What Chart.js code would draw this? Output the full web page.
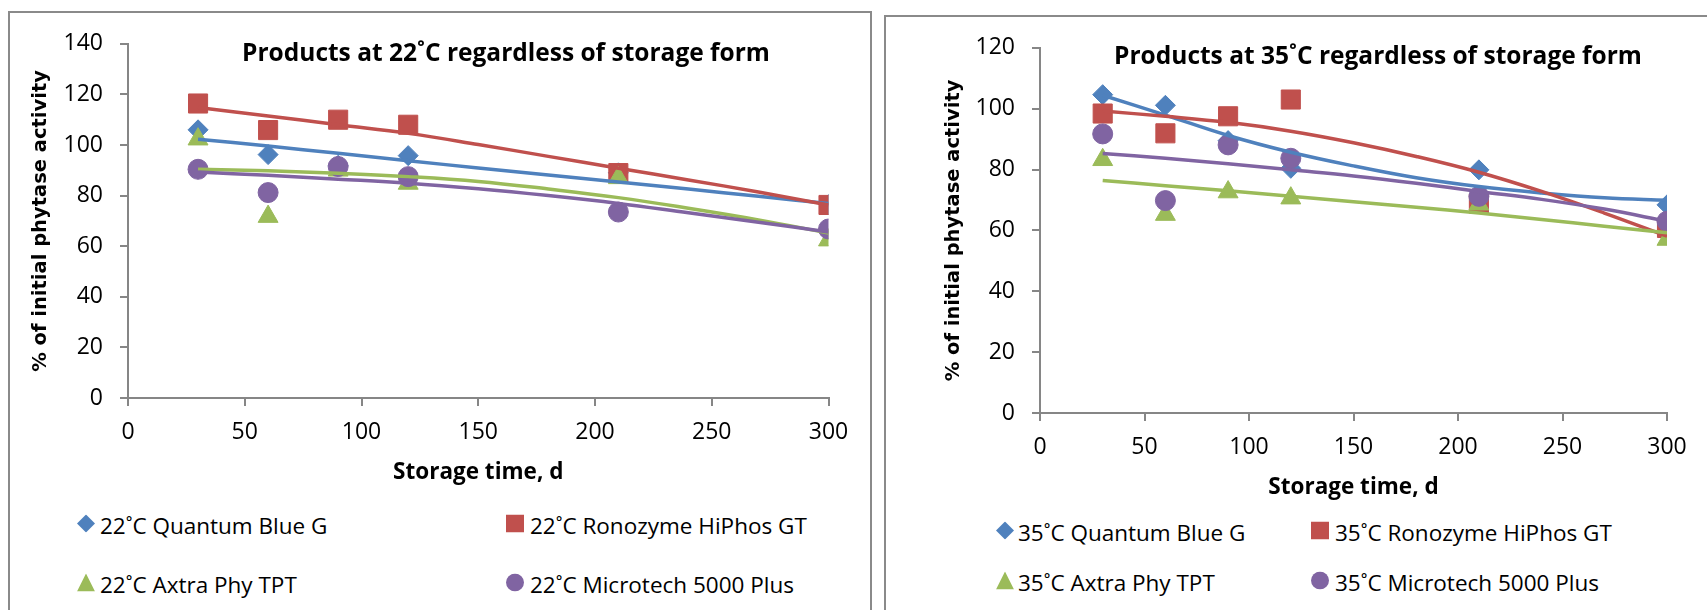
<!DOCTYPE html>
<html>
<head>
<meta charset="utf-8">
<script src="https://cdn.jsdelivr.net/npm/chart.js@4.4.0/dist/chart.umd.min.js"></script>
<style>
  body { margin: 0; background: #fff; width: 1707px; height: 610px; overflow: hidden; position: relative; font-family: 'Open Sans', sans-serif; }
  .panel { position: absolute; border: 2px solid #8a8a8a; border-bottom: none; background: #fff; }
  #p1 { left: 8px; top: 11px; width: 860px; height: 620px; }
  #p2 { left: 884px; top: 15px; width: 840px; height: 620px; border-right: none; }
  canvas { position: absolute; left: 0; top: 0; }
  .title { position: absolute; transform: translate(-50%, -50%); white-space: nowrap; font-weight: bold; font-size: 24.5px; line-height: 1; color: #000; }
  .lg { position: absolute; transform: translateY(-50%); white-space: nowrap; font-size: 22.5px; line-height: 1; color: #000; }
  .mk { position: absolute; transform: translate(-50%, -50%); }
</style>
</head>
<body>
<div class="panel" id="p1"><canvas id="c22" width="860" height="480"></canvas></div>
<div class="panel" id="p2"><canvas id="c35" width="821" height="495"></canvas></div>
<div class="title" style="left:506px;top:52px">Products at 22˚C regardless of storage form</div>
<div class="title" style="left:1378px;top:55px">Products at 35˚C regardless of storage form</div>
<div id="legends"></div>
<script>
// storage days of the measurements and of the read-off trend curves
const days = [30, 60, 90, 120, 210, 300];
const trendDays = [30, 60, 90, 120, 150, 180, 210, 240, 270, 300];
const xTicks = [0, 50, 100, 150, 200, 250, 300];
const yTicks22 = [0, 20, 40, 60, 80, 100, 120, 140];
const yTicks35 = [0, 20, 40, 60, 80, 100, 120];

const products = ['Quantum Blue G', 'Ronozyme HiPhos GT', 'Axtra Phy TPT', 'Microtech 5000 Plus'];

// 22 C measurements (% of initial phytase activity)
const quantum22 = [106, 96.2, 92, 95.8, 89, 76.5];
const ronozyme22 = [116.4, 105.9, 110, 108, 88.9, 76.3];
const axtra22 = [102.3, 71.7, 90, 84.8, 87, 62.4];
const microtech22 = [90.4, 81.2, 91.5, 87.5, 73.5, 66.8];

// 22 C trend lines
const quantum22Trend = [102.3, 99.6, 96.7, 93.8, 90.9, 88.1, 85.4, 82.6, 79.7, 76.9];
const ronozyme22Trend = [114.8, 111.5, 108, 104.6, 100.2, 95.5, 90.8, 86.2, 81.4, 76.3];
const axtra22Trend = [90.4, 89.8, 88.8, 87.5, 85.6, 82.6, 79.2, 75, 70.4, 65.2];
const microtech22Trend = [89.3, 88, 86.5, 84.9, 82.7, 80, 76.9, 73.2, 69.5, 65.6];

// 35 C measurements
const quantum35 = [104.6, 101.1, 89.5, 80.4, 79.9, 68.4];
const ronozyme35 = [98.4, 91.9, 97.5, 103, 68.8, 60.8];
const axtra35 = [83.2, 65.2, 72.6, 70.6, 68.6, 57];
const microtech35 = [91.7, 69.8, 88.1, 83.7, 71.2, 63];

// 35 C trend lines
const quantum35Trend = [104.4, 97.9, 91.2, 85.7, 81.2, 77.3, 74.4, 72.3, 70.7, 69.9];
const ronozyme35Trend = [99.2, 97.5, 95.5, 92.6, 88.8, 84.3, 79.1, 72.8, 65.7, 58.1];
const axtra35Trend = [76.4, 74.7, 73, 71.2, 69.4, 67.6, 65.7, 63.6, 61.4, 59.2];
const microtech35Trend = [85.3, 83.7, 81.9, 79.9, 77.9, 75.5, 72.8, 70.2, 67, 63];

const BLUE = '#4F81BD', RED = '#C0504D', GREEN = '#9BBB59', PURPLE = '#8064A2';
const AXIS = '#868686';

Chart.defaults.font.family = "'Open Sans', sans-serif";
Chart.defaults.color = '#000';

function pts(xs, ys) {
  return xs.map((x, i) => ({ x: x, y: ys[i] }));
}

function markers(label, ys, color, style, r, order) {
  return {
    type: 'scatter', label: label, data: pts(days, ys),
    backgroundColor: color, borderColor: color, borderWidth: 1,
    pointStyle: style, pointRadius: r, pointHoverRadius: r,
    showLine: false, order: order
  };
}

function trend(label, ys, color, order) {
  return {
    type: 'line', label: label, data: pts(trendDays, ys),
    borderColor: color, backgroundColor: color, borderWidth: 3.5,
    pointRadius: 0, fill: false, tension: 0.4, order: order
  };
}

function makeChart(id, temp, series, trends, yTicks, lay) {
  const colors = [BLUE, RED, GREEN, PURPLE];
  const styles = [['rectRot', 10], ['rect', 13.5], ['triangle', 11.5], ['circle', 10]];
  const datasets = [];
  series.forEach((ys, i) => {
    datasets.push(markers(temp + ' ' + products[i], ys, colors[i], styles[i][0], styles[i][1], 8 - i));
  });
  trends.forEach((ys, i) => {
    datasets.push(trend('Poly. (' + temp + ' ' + products[i] + ')', ys, colors[i], 4 - i));
  });

  new Chart(document.getElementById(id), {
    type: 'scatter',
    data: { datasets: datasets },
    options: {
      responsive: false,
      animation: false,
      devicePixelRatio: 1,
      layout: { padding: { left: 0, top: lay.top, right: lay.right, bottom: 0 } },
      plugins: { legend: { display: false }, tooltip: { enabled: false } },
      scales: {
        x: {
          type: 'linear', min: 0, max: 300,
          afterBuildTicks: s => { s.ticks = xTicks.map(v => ({ value: v })); },
          afterFit: s => { s.height = lay.xHeight; },
          grid: { drawOnChartArea: false, drawTicks: true, tickLength: 8, color: AXIS, lineWidth: 2 },
          border: { display: true, color: AXIS, width: 2 },
          ticks: { padding: 13, maxRotation: 0, font: { size: 23 } },
          title: { display: true, text: 'Storage time, d', font: { size: 22.5, weight: 'bold' }, padding: { top: 0, bottom: lay.xTitlePad } }
        },
        y: {
          type: 'linear', min: 0, max: yTicks[yTicks.length - 1],
          afterBuildTicks: s => { s.ticks = yTicks.map(v => ({ value: v })); },
          afterFit: s => { s.width = lay.yWidth; },
          grid: { drawOnChartArea: false, drawTicks: true, tickLength: 8, color: AXIS, lineWidth: 2 },
          border: { display: true, color: AXIS, width: 2 },
          ticks: { padding: 17, font: { size: 23 } },
          title: { display: true, text: '% of initial phytase activity', font: { family: "'DejaVu Sans', sans-serif", size: 19.5, weight: 'bold' }, padding: { top: lay.yTitlePad, bottom: 0 } }
        }
      }
    }
  });
}

makeChart('c22', '22˚C',
  [quantum22, ronozyme22, axtra22, microtech22],
  [quantum22Trend, ronozyme22Trend, axtra22Trend, microtech22Trend],
  yTicks22, { top: 15, right: 41.5, xHeight: 95, yWidth: 118, xTitlePad: 7, yTitlePad: 19 });

makeChart('c35', '35˚C',
  [quantum35, ronozyme35, axtra35, microtech35],
  [quantum35Trend, ronozyme35Trend, axtra35Trend, microtech35Trend],
  yTicks35, { top: 29, right: 40, xHeight: 99, yWidth: 154, xTitlePad: 11, yTitlePad: 56 });

// legends, two columns under each chart
const shapes = [
  '<svg width="18" height="18"><polygon points="9,0 18,9 9,18 0,9" fill="' + BLUE + '"/></svg>',
  '<svg width="18" height="18"><rect x="0" y="0" width="18" height="18" fill="' + RED + '"/></svg>',
  '<svg width="18" height="18"><polygon points="9,0 18,18 0,18" fill="' + GREEN + '"/></svg>',
  '<svg width="18" height="18"><circle cx="9" cy="9" r="9" fill="' + PURPLE + '"/></svg>'
];

function legend(temp, cols, rows) {
  let html = '';
  products.forEach((p, i) => {
    const c = cols[i % 2], y = rows[Math.floor(i / 2)];
    html += '<div class="mk" style="left:' + c[0] + 'px;top:' + y + 'px">' + shapes[i] + '</div>';
    html += '<div class="lg" style="left:' + c[1] + 'px;top:' + y + 'px">' + temp + ' ' + p + '</div>';
  });
  return html;
}

document.getElementById('legends').innerHTML =
  legend('22˚C', [[86, 100], [515, 530]], [526, 585]) +
  legend('35˚C', [[1005, 1018], [1320, 1335]], [533, 583]);
</script>
</body>
</html>
